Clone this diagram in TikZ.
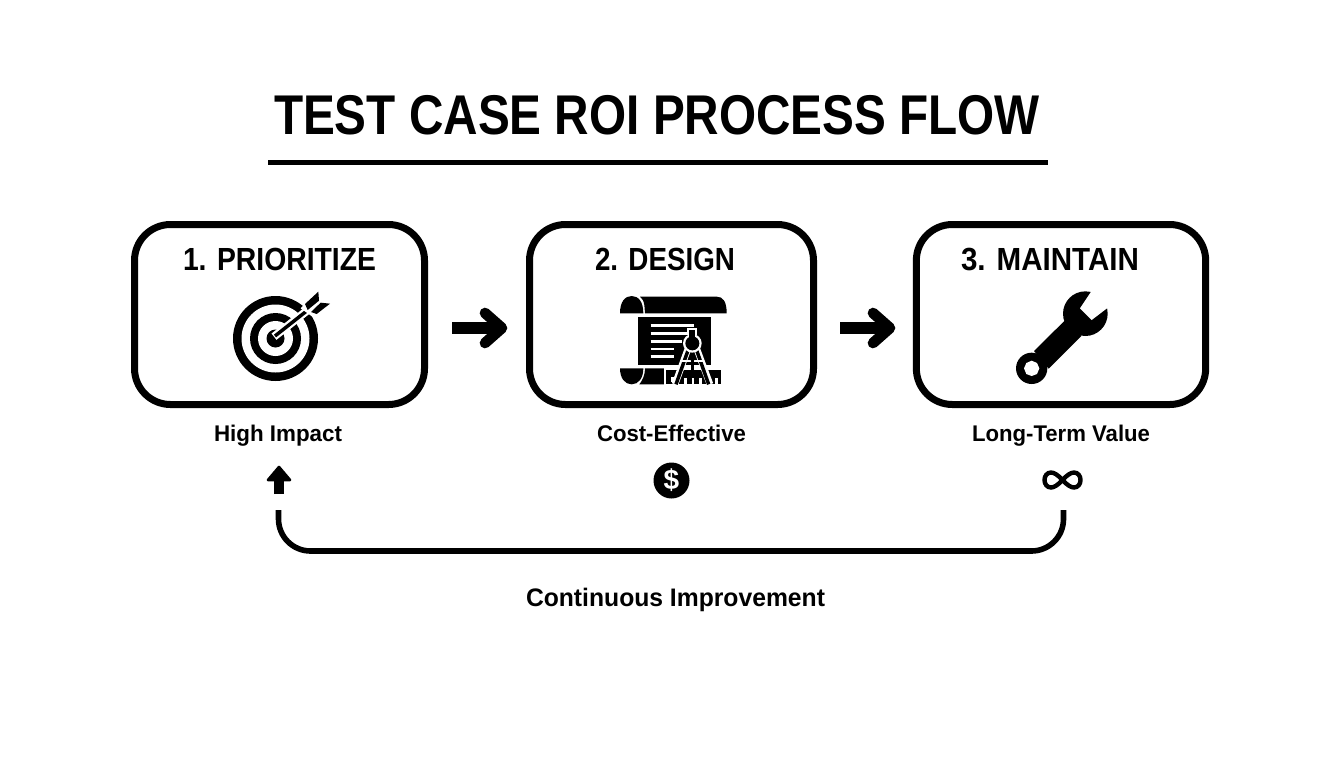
\documentclass[tikz,border=0pt]{standalone}
\usepackage{fontspec}
\usepackage{graphicx}
\setmainfont{Liberation Sans}
\usetikzlibrary{calc}
\newcommand{\fitw}[2]{\resizebox{#1pt}{\height}{#2}}
\tikzset{
 stepbox/.style={draw=black,line width=5.25pt,rounded corners=27pt,minimum width=217.5pt,minimum height=135pt,inner sep=0pt,fill=white},
 steptitle/.style={font=\fontsize{24}{28}\bfseries,anchor=base,inner sep=0pt},
 caption/.style={font=\fontsize{17}{21}\bfseries,anchor=base,inner sep=0pt},
 shaft/.style={line width=8.5pt},
 headline/.style={line width=8pt,line cap=round,line join=round},
 loopline/.style={line width=4.2pt,rounded corners=24pt},
 icon/.style={x=.25pt,y=-.25pt},
}
\begin{document}
\begin{tikzpicture}[x=.75pt,y=-.75pt]
\useasboundingbox (0,0) rectangle (1344,768);
% title
\node[inner sep=0pt,anchor=base,font=\fontsize{42}{50}\bfseries] (title) at (657,134) {\fitw{574.5}{TEST CASE ROI PROCESS FLOW}};
\coordinate (ulL) at (268,162); \coordinate (ulR) at (1048,162);
\draw[line width=3.75pt] (ulL) -- (ulR);
% boxes
\node[stepbox,minimum width=217.5pt] (b1) at (279.5,314.5) {};
\node[stepbox,minimum width=213pt] (b2) at (671.5,314.5) {};
\node[stepbox,minimum width=217pt] (b3) at (1061,314.5) {};
\node[steptitle] (t1) at (279.5,270.7) {\fitw{144.75}{1. PRIORITIZE}};
\node[steptitle] (t2) at (665,270.7) {\fitw{105}{2. DESIGN}};
\node[steptitle] (t3) at (1050,270.7) {\fitw{133.5}{3. MAINTAIN}};
% arrows between boxes
\coordinate (a1s) at (452,328); \coordinate (a1e) at (498,328);
\coordinate (a2s) at (840,328); \coordinate (a2e) at (886,328);
\draw[shaft] (a1s) -- (a1e);
\draw[headline] (485,313) -- (502,328) -- (485,343);
\draw[shaft] (a2s) -- (a2e);
\draw[headline] (873,313) -- (890,328) -- (873,343);
% target icon
\fill (275.5,338.5) circle[radius=42.5];
\fill[white] (275.5,338.5) circle[radius=34];
\fill (275.5,338.5) circle[radius=25.5];
\fill[white] (275.5,338.5) circle[radius=17.5];
\fill (275.5,338.5) circle[radius=9];
\begin{scope}[shift={(210,280)},icon]
 \draw[white,line width=6pt] (192,170) -- (300,85);
 \draw[line width=2.6pt] (195,168) -- (300,85);
 \fill[white] (272,85) -- (325,25) -- (370,70) -- (310,112) -- cycle;
 \fill (285,72) -- (325,35) -- (327,62) -- (293,90) -- cycle;
 \fill (303,96) -- (332,68) -- (360,71) -- (320,102) -- cycle;
\end{scope}
% design icon
\begin{scope}[shift={(600,285)},icon]
 \fill (120,35) -- (350,35) .. controls (368,35) and (380,48) .. (380,85) -- (135,85) -- (133,60) .. controls (131,48) and (127,40) .. cycle;
 \fill (60,85) .. controls (60,50) and (75,33) .. (95,33) .. controls (115,33) and (130,50) .. (130,85) -- cycle;
 \fill (115,95) rectangle (332,240);
 \foreach \a/\b in {122/283,146/283,170/245,192/222,215/222}
   \draw[white,line width=2pt] (152,\a) -- (\b,\a);
 \fill (60,250) -- (130,250) .. controls (130,280) and (115,298) .. (95,298) .. controls (75,298) and (60,280) .. (60,250) -- cycle;
 \fill (135,250) -- (200,250) -- (200,298) -- (118,298) .. controls (128,285) and (135,270) .. cycle;
 % ruler
 \fill[white] (192,248) rectangle (368,302);
 \fill (197,255) rectangle (362,298);
 \fill[white] (213,275) rectangle (225,292);
 \foreach \a in {252,275,298,322,345}
   \fill[white] (\a,280) rectangle (\a+8,298);
 % compass
 \draw[white,line width=5pt] (268,180) -- (225,298);
 \draw[white,line width=5pt] (286,180) -- (330,298);
 \draw[line width=2.6pt] (268,185) -- (228,298);
 \draw[line width=2.6pt] (286,185) -- (326,298);
 \draw[white,line width=1.5pt] (245,228) -- (310,228);
 \fill (277,205) -- (270,225) -- (284,225) -- cycle;
 \fill (272,225) rectangle (282,258);
 \fill[white] (277,175) circle[radius=28];
 \fill[white] (262,128) rectangle (292,150);
 \fill (268,135) rectangle (286,160);
 \fill (277,175) circle[radius=21];
\end{scope}
% wrench icon
\begin{scope}[shift={(1000,280)},icon]
 \fill (95,265) circle[radius=47];
 \fill (102,213) -- (198,118) -- (244,168) -- (146,266) -- cycle;
 \fill (256,101) circle[radius=67];
 \fill[white] (278,28) -- (240,85) -- (275,120) -- (330,78) -- (345,20) -- cycle;
 \fill[white] (118,265) -- (111,282) -- (95,288) -- (79,282) -- (72,265) -- (79,249) -- (95,242) -- (111,249) -- cycle;
\end{scope}
% captions
\node[caption] (c1) at (278,441) {\fitw{96}{High Impact}};
\node[caption] (c2) at (671.5,441) {\fitw{111.75}{Cost-Effective}};
\node[caption] (c3) at (1061,441) {\fitw{133.5}{Long-Term Value}};
% up arrow
\coordinate (upS) at (279,494); \coordinate (upE) at (279,478);
\draw[line width=7pt] (upS) -- (upE);
\fill[draw=black,line width=2pt,line join=round] (279,467) -- (290,480) -- (268,480) -- cycle;
% dollar
\node[circle,fill=black,minimum size=27pt,inner sep=0pt,text=white,font=\fontsize{21}{22}\bfseries] (d) at (671.5,480.5) {\$};
% infinity
\draw[line width=3.3pt] (1062.5,480) .. controls (1058,475) and (1054,472.5) .. (1051,472.5) .. controls (1047,472.5) and (1044.5,476) .. (1044.5,480) .. controls (1044.5,484) and (1047,487.5) .. (1051,487.5) .. controls (1054,487.5) and (1058,485) .. (1062.5,480) .. controls (1067,475) and (1071,472.5) .. (1074,472.5) .. controls (1078,472.5) and (1080.5,476) .. (1080.5,480) .. controls (1080.5,484) and (1078,487.5) .. (1074,487.5) .. controls (1071,487.5) and (1067,485) .. (1062.5,480) -- cycle;
% loop
\coordinate (lpR) at (1063.5,510); \coordinate (lpL) at (278.5,510);
\draw[loopline] (lpR) -- (1063.5,551) -- (278.5,551) -- (lpL);
\node[caption,font=\fontsize{19}{24}\bfseries] (ci) at (675.5,606) {\fitw{224.25}{Continuous Improvement}};
\end{tikzpicture}
\end{document}
